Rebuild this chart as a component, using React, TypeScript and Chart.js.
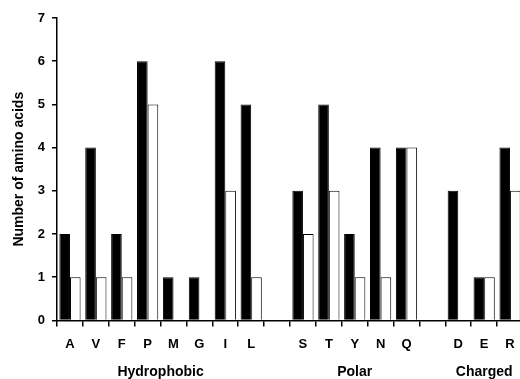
import React, { useEffect, useRef } from "react";
import { Chart, registerables } from "chart.js";
Chart.register(...registerables);

const categories = ["A", "V", "F", "P", "M", "G", "I", "L", "", "S", "T", "Y", "N", "Q", "", "D", "E", "R"];
const blackValues = [2, 4, 2, 6, 1, 1, 6, 5, null, 3, 5, 2, 4, 4, null, 3, 1, 4];
const whiteValues = [1, 1, 1, 5, 0, 0, 3, 1, null, 2, 3, 1, 1, 4, null, 0, 1, 3];
const groupLabels = ["Hydrophobic", "Polar", "Charged"];
const groupRanges = [[0, 7], [9, 13], [15, 17]];
const yTicks = [0, 1, 2, 3, 4, 5, 6, 7];
const yTitle = "Number of amino acids";

const FONT = "'Liberation Sans', Arial, sans-serif";

const groupPlugin = {
  id: "groupLabels",
  afterDraw(chart: any) {
    const ctx = chart.ctx;
    const x = chart.scales.x;
    ctx.save();
    ctx.font = `bold 14px ${FONT}`;
    ctx.fillStyle = "#000";
    ctx.textAlign = "center";
    ctx.textBaseline = "middle";
    groupLabels.forEach((g, i) => {
      const [a, b] = groupRanges[i];
      const cx = (x.getPixelForValue(a) + x.getPixelForValue(b)) / 2;
      ctx.fillText(g, cx, 372);
    });
    ctx.restore();
  },
};

export default function App() {
  const ref = useRef<HTMLCanvasElement>(null);
  useEffect(() => {
    document.body.style.margin = "0";
    document.body.style.overflow = "hidden";
    const chart = new Chart(ref.current!, {
      type: "bar",
      data: {
        labels: categories,
        datasets: [
          {
            data: blackValues as any,
            backgroundColor: "#000",
            borderColor: "#000",
            borderWidth: 1,
          },
          {
            data: whiteValues as any,
            backgroundColor: "#fff",
            borderColor: "#000",
            borderWidth: 1,
          },
        ],
      },
      options: {
        animation: false,
        responsive: false,
        maintainAspectRatio: false,
        layout: { padding: { top: 18, right: 5, bottom: 17, left: 11 } },
        plugins: { legend: { display: false }, tooltip: { enabled: false } },
        datasets: { bar: { categoryPercentage: 0.82, barPercentage: 1 } },
        scales: {
          x: {
            grid: {
              offset: true,
              drawOnChartArea: false,
              drawTicks: true,
              tickLength: 6,
              color: "#000",
              lineWidth: 1.5,
            },
            border: { color: "#000", width: 1.5 },
            ticks: {
              color: "#000",
              font: { family: FONT, weight: "bold", size: 13 },
              padding: 10,
              maxRotation: 0,
              autoSkip: false,
            },
          },
          y: {
            min: 0,
            max: 7,
            afterBuildTicks: (s: any) => {
              s.ticks = yTicks.map((v) => ({ value: v }));
            },
            grid: {
              drawOnChartArea: false,
              drawTicks: true,
              tickLength: 5,
              color: "#000",
              lineWidth: 1.5,
            },
            border: { color: "#000", width: 1.5 },
            ticks: {
              color: "#000",
              font: { family: FONT, weight: "bold", size: 13 },
              padding: 7,
            },
            title: {
              display: true,
              text: yTitle,
              color: "#000",
              font: { family: FONT, weight: "bold", size: 14 },
              padding: { top: 0, bottom: 3 },
            },
          },
        },
      },
      plugins: [groupPlugin],
    });
    return () => chart.destroy();
  }, []);
  return (
    <div style={{ width: 528, height: 379, overflow: "hidden" }}>
      <canvas ref={ref} width={528} height={379} style={{ display: "block" }} />
    </div>
  );
}
